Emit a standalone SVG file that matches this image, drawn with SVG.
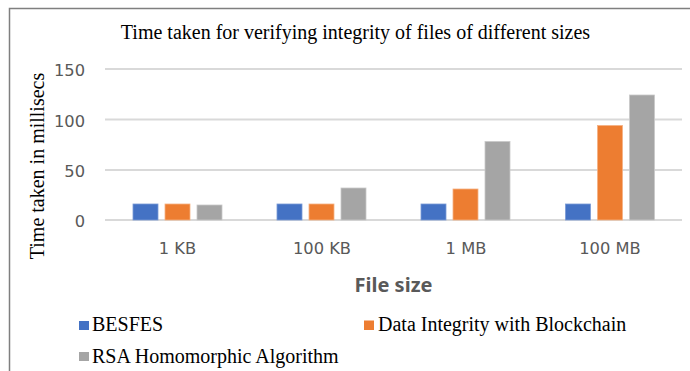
<svg xmlns="http://www.w3.org/2000/svg" width="690" height="371" viewBox="0 0 690 371">
<style>
.grid{stroke:#d9d9d9;stroke-width:2}
.tick{font-family:"DejaVu Sans","Noto Sans",sans-serif;font-size:16.3px;fill:#595959}
.cat{font-family:"DejaVu Sans","Noto Sans",sans-serif;font-size:16.3px;fill:#595959;text-anchor:middle}
.serif{font-family:"Liberation Serif","Times New Roman",serif;fill:#000;font-size:20px}
.b{fill:#4472c4;stroke:#7a9bd6;stroke-width:0.8}
.o{fill:#ed7d31;stroke:#f4b183;stroke-width:0.8}
.g{fill:#a5a5a5;stroke:#c9c9c9;stroke-width:0.8}
</style>
<rect width="690" height="371" fill="#fff"/>
<path d="M9.5 371V8.5H690" fill="none" stroke="#7f7f7f" stroke-width="1.5"/>
<text class="serif" x="355.5" y="39" text-anchor="middle">Time taken for verifying integrity of files of different sizes</text>
<g id="axes">
<line class="grid" x1="105" y1="69" x2="682" y2="69"/>
<line class="grid" x1="105" y1="119.5" x2="682" y2="119.5"/>
<line class="grid" x1="105" y1="170" x2="682" y2="170"/>
<line class="grid" x1="105" y1="220" x2="682" y2="220"/>
<text class="tick" x="85" y="76" text-anchor="end">150</text>
<text class="tick" x="85" y="126.5" text-anchor="end">100</text>
<text class="tick" x="85" y="177" text-anchor="end">50</text>
<text class="tick" x="85" y="227" text-anchor="end">0</text>
<text class="serif" text-anchor="middle" transform="translate(44,166) rotate(-90)">Time taken in millisecs</text>
<text class="cat" x="177.5" y="254">1 KB</text>
<text class="cat" x="322" y="254">100 KB</text>
<text class="cat" x="466" y="254">1 MB</text>
<text class="cat" x="610" y="254">100 MB</text>
<text x="393.5" y="292" font-family="Noto Sans,Open Sans,sans-serif" font-size="20" font-weight="bold" fill="#595959" text-anchor="middle">File size</text>
</g>
<g id="bars">
<rect class="b" x="133" y="204" width="25" height="16"/>
<rect class="o" x="165" y="204" width="25" height="16"/>
<rect class="g" x="197" y="205" width="25" height="15"/>
<rect class="b" x="277" y="204" width="25" height="16"/>
<rect class="o" x="309" y="204" width="25" height="16"/>
<rect class="g" x="341" y="188" width="25" height="32"/>
<rect class="b" x="421" y="204" width="25" height="16"/>
<rect class="o" x="453" y="189" width="25" height="31"/>
<rect class="g" x="485" y="141.5" width="25" height="78.5"/>
<rect class="b" x="565.5" y="204" width="25" height="16"/>
<rect class="o" x="597.5" y="125.5" width="25" height="94.5"/>
<rect class="g" x="629.5" y="95" width="25" height="125"/>
</g>
<g id="legend">
<rect x="79" y="321" width="10" height="9" fill="#4472c4"/>
<text class="serif" x="92" y="331">BESFES</text>
<rect x="364" y="320.5" width="10" height="9.5" fill="#ed7d31"/>
<text class="serif" x="378" y="331">Data Integrity with Blockchain</text>
<rect x="79" y="352" width="10" height="9" fill="#a5a5a5"/>
<text class="serif" x="92" y="363">RSA Homomorphic Algorithm</text>
</g>
</svg>
